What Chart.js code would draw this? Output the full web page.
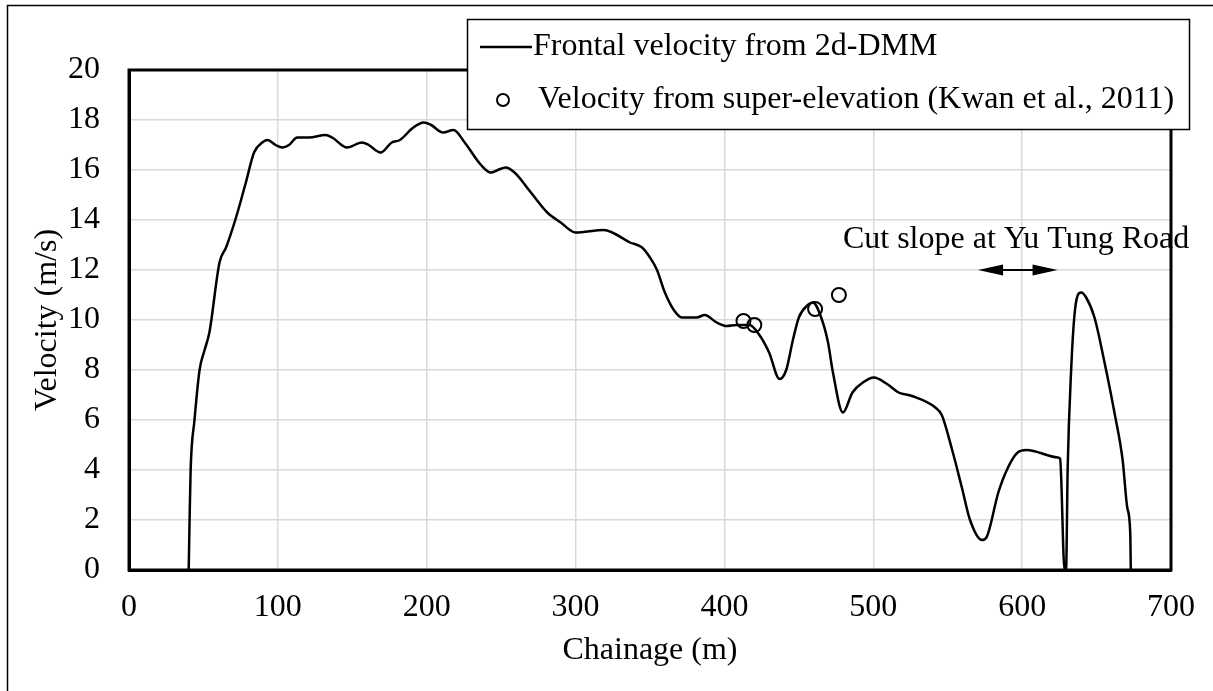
<!DOCTYPE html>
<html>
<head>
<meta charset="utf-8">
<script src="https://cdn.jsdelivr.net/npm/chart.js@4.4.1/dist/chart.umd.min.js"></script>
<style>
  html, body { margin: 0; padding: 0; background: #fff; }
  #wrap { width: 1213px; height: 691px; }
</style>
</head>
<body>
<div id="wrap"><canvas id="chart" width="1213" height="691"></canvas></div>
<script>
// chainage (m) and frontal velocity (m/s)
const chainage = [40.1, 40.7, 41.4, 44, 47.4, 50.8, 54, 60.8, 65.2, 71.9, 78.5, 84, 89.5, 93, 98.5, 103, 107.5, 113, 121, 132,
  136.5, 146.5, 156.5, 161, 169, 176.5, 182, 191, 198, 203, 211, 218, 225.5, 236.5, 243, 247.8, 253, 259, 270, 281,
  290, 300, 319, 324.6, 336.6, 344.7, 350, 354.7, 360, 366, 371.4, 381.4, 386.8, 394.8, 401.5, 408, 416.8, 423.5, 430, 437,
  441.5, 446, 450, 456, 459.5, 465, 469.6, 472.9, 479.6, 486, 493, 500.4, 509, 517, 526, 541.7, 546, 553, 559.5, 565,
  573, 576, 584, 590.5, 597, 603, 624, 625.5, 628.5, 629.5, 630.6, 633, 635, 637.4, 639.7, 643, 648.6, 655, 662, 667.5,
  670.6, 672.6, 673];
const velocity = [0, 2.0, 4.0, 6.0, 8.0, 8.8, 9.5, 12.3, 12.9, 14.1, 15.5, 16.7, 17.1, 17.2, 17.0, 16.9, 17.0, 17.3, 17.3, 17.4,
  17.3, 16.9, 17.1, 17.0, 16.7, 17.1, 17.2, 17.7, 17.9, 17.8, 17.5, 17.6, 17.1, 16.2, 15.9, 16.0, 16.1, 15.9, 15.1, 14.3,
  13.9, 13.5, 13.6, 13.5, 13.1, 12.9, 12.5, 12.0, 11.1, 10.4, 10.1, 10.1, 10.2, 9.9, 9.76, 9.8, 9.8, 9.4, 8.7, 7.64,
  8.0, 9.2, 10.1, 10.6, 10.7, 10.1, 9.1, 7.9, 6.3, 7.1, 7.5, 7.7, 7.45, 7.1, 6.96, 6.5, 6.2, 4.8, 3.3, 2.0,
  1.2, 1.3, 3.1, 4.1, 4.7, 4.8, 4.5, 4.45, 0, 0, 4.1, 8.1, 10.1, 11.0, 11.1, 10.9, 10.1, 8.4, 6.3, 4.4,
  2.5, 1.5, 0];

// super-elevation estimates (Kwan et al., 2011)
const superChainage = [412.8, 420.1, 460.9, 476.9];
const superVelocity = [9.96, 9.8, 10.44, 11.0];

const xTicks = [0, 100, 200, 300, 400, 500, 600, 700];
const yTicks = [0, 2, 4, 6, 8, 10, 12, 14, 16, 18, 20];

const seriesNames = ["Frontal velocity from 2d-DMM", "Velocity from super-elevation (Kwan et al., 2011)"];
const cutSlopeLabel = "Cut slope at Yu Tung Road";
const cutSlopeRange = [570.4, 623.8]; // chainage span of the arrow
const cutSlopeLevel = 12.0;

const FONT = "Liberation Serif, 'Times New Roman', serif";
const FS = 32;

const linePts = chainage.map((x, i) => ({ x: x, y: velocity[i] }));
const superPts = superChainage.map((x, i) => ({ x: x, y: superVelocity[i] }));

// frame, legend box, annotation
const decor = {
  id: "decor",
  afterDraw(chart) {
    const ctx = chart.ctx;
    const a = chart.chartArea;
    const xs = chart.scales.x, ys = chart.scales.y;
    ctx.save();

    // outer border
    ctx.strokeStyle = "#000";
    ctx.lineWidth = 1.5;
    ctx.strokeRect(7.5, 5.5, 1300, 800);

    // plot frame
    ctx.lineWidth = 3;
    ctx.strokeRect(a.left, a.top, a.right - a.left, a.bottom - a.top);

    // annotation
    ctx.fillStyle = "#000";
    ctx.font = FS + "px " + FONT;
    ctx.textBaseline = "middle";
    ctx.textAlign = "left";
    ctx.fillText(cutSlopeLabel, xs.getPixelForValue(479.6), ys.getPixelForValue(13.2));
    const x1 = xs.getPixelForValue(cutSlopeRange[0]);
    const x2 = xs.getPixelForValue(cutSlopeRange[1]);
    const yy = ys.getPixelForValue(cutSlopeLevel);
    ctx.lineWidth = 2;
    ctx.beginPath(); ctx.moveTo(x1 + 10, yy); ctx.lineTo(x2 - 10, yy); ctx.stroke();
    ctx.beginPath(); ctx.moveTo(x1, yy); ctx.lineTo(x1 + 25, yy - 5.5); ctx.lineTo(x1 + 25, yy + 5.5); ctx.closePath(); ctx.fill();
    ctx.beginPath(); ctx.moveTo(x2, yy); ctx.lineTo(x2 - 25, yy - 5.5); ctx.lineTo(x2 - 25, yy + 5.5); ctx.closePath(); ctx.fill();

    // legend
    const lx = 467, ly = 19, lw = 722, lh = 110;
    ctx.fillStyle = "#fff";
    ctx.fillRect(lx, ly, lw, lh);
    ctx.lineWidth = 1.5;
    ctx.strokeRect(lx + 0.5, ly + 0.5, lw, lh);
    ctx.lineWidth = 2.5;
    ctx.beginPath(); ctx.moveTo(480, 47); ctx.lineTo(532, 47); ctx.stroke();
    ctx.lineWidth = 2;
    ctx.beginPath(); ctx.arc(503, 100, 6, 0, Math.PI * 2); ctx.stroke();
    ctx.fillStyle = "#000";
    ctx.fillText(chart.data.datasets[0].label, 533, 47);
    ctx.fillText(chart.data.datasets[1].label, 538, 100);

    ctx.restore();
  }
};

new Chart(document.getElementById("chart"), {
  type: "scatter",
  data: {
    datasets: [
      {
        label: seriesNames[0],
        data: linePts,
        showLine: true,
        borderColor: "#000",
        borderWidth: 2.5,
        pointRadius: 0,
        cubicInterpolationMode: "monotone",
        order: 1
      },
      {
        label: seriesNames[1],
        data: superPts,
        showLine: false,
        borderColor: "#000",
        backgroundColor: "rgba(0,0,0,0)",
        pointRadius: 7,
        pointBorderWidth: 2,
        order: 0
      }
    ]
  },
  options: {
    responsive: false,
    animation: false,
    devicePixelRatio: 1,
    layout: { padding: { top: 70, right: 36, left: 0, bottom: 0 } },
    plugins: { legend: { display: false }, tooltip: { enabled: false } },
    scales: {
      x: {
        type: "linear",
        min: 0, max: 700,
        afterFit(s) { s.height = 121; },
        afterBuildTicks(s) { s.ticks = xTicks.map(v => ({ value: v })); },
        ticks: { color: "#000", font: { family: FONT, size: FS }, padding: 18 },
        grid: { color: "#d9d9d9", lineWidth: 1.5, drawTicks: false },
        border: { color: "#000", width: 3 },
        title: { display: true, text: "Chainage (m)", color: "#000", font: { family: FONT, size: FS }, padding: { top: 2, bottom: 21 } }
      },
      y: {
        min: 0, max: 20,
        afterFit(s) { s.width = 129; },
        afterBuildTicks(s) { s.ticks = yTicks.map(v => ({ value: v })); },
        ticks: { color: "#000", font: { family: FONT, size: FS }, padding: 29 },
        grid: { color: "#d9d9d9", lineWidth: 1.5, drawTicks: false },
        border: { color: "#000", width: 3 },
        title: { display: true, text: "Velocity (m/s)", color: "#000", font: { family: FONT, size: FS }, padding: { top: 28 } }
      }
    }
  },
  plugins: [decor]
});
</script>
</body>
</html>
